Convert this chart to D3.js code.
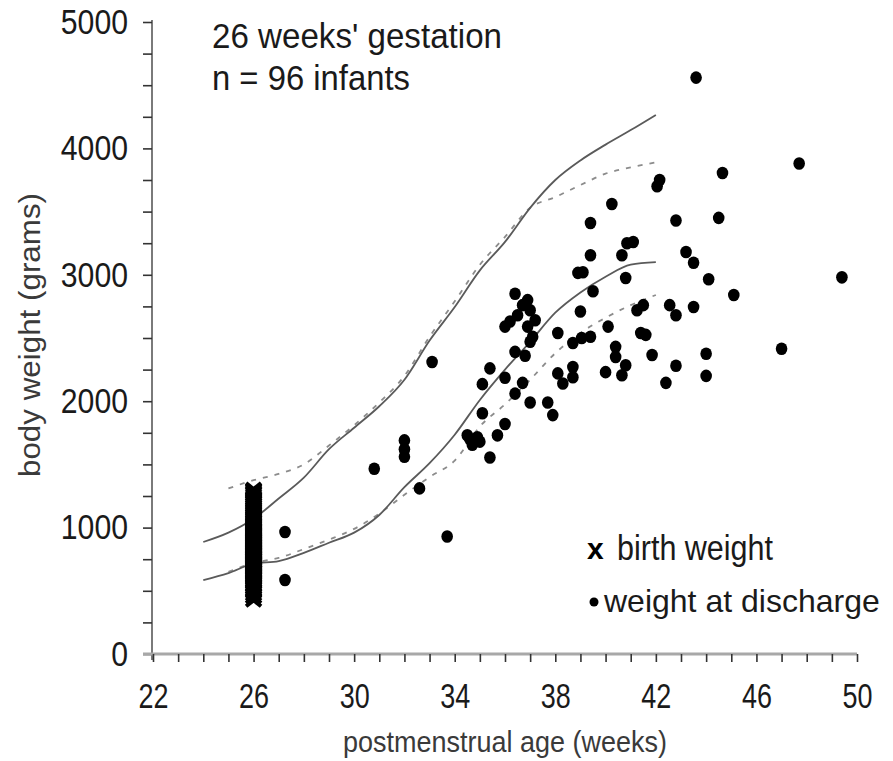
<!DOCTYPE html>
<html>
<head>
<meta charset="utf-8">
<script src="https://cdn.jsdelivr.net/npm/d3@7"></script>
<style>
  html, body { margin: 0; padding: 0; background: #fff; }
  svg { display: block; font-family: "Liberation Sans", Arial, sans-serif; }
</style>
</head>
<body>
<svg id="chart" width="893" height="761"></svg>
<script>
// Reference growth curves (postmenstrual week -> grams)
const upperSolidWeeks = [24, 25, 26, 27, 28, 29, 30, 31, 32, 33, 34, 35, 36, 37, 38, 39, 40, 41, 42];
const upperSolidGrams = [886, 960, 1070, 1230, 1395, 1620, 1790, 1960, 2170, 2480, 2745, 3035, 3260, 3530, 3750, 3905, 4030, 4145, 4265];

const upperDashedWeeks = [25, 26, 27, 28, 29, 30, 31, 32, 33, 34, 35, 36, 37, 38, 39, 40, 41, 42];
const upperDashedGrams = [1310, 1375, 1425, 1500, 1650, 1810, 1990, 2200, 2510, 2790, 3080, 3300, 3530, 3615, 3710, 3800, 3850, 3890];

const lowerSolidWeeks = [24, 25, 26, 27, 28, 29, 30, 31, 32, 33, 34, 35, 36, 37, 38, 39, 40, 41, 42];
const lowerSolidGrams = [585, 640, 715, 735, 800, 880, 960, 1100, 1320, 1510, 1735, 2010, 2250, 2470, 2700, 2860, 2985, 3080, 3100];

const lowerDashedWeeks = [25, 26, 27, 28, 29, 30, 31, 32, 33, 34, 35, 36, 37, 38, 39, 40, 41, 42];
const lowerDashedGrams = [650, 720, 760, 830, 905, 990, 1110, 1260, 1400, 1530, 1800, 1975, 2170, 2380, 2540, 2660, 2760, 2840];

// Birth weights of the 96 infants (all at 26 weeks)
const birthWeek = 26;
const birthWeights = [425, 450, 470, 490, 505, 520, 535, 545, 560, 570,
  580, 590, 600, 610, 618, 625, 635, 640, 650, 655,
  660, 670, 675, 680, 690, 695, 700, 705, 710, 718,
  725, 730, 735, 740, 748, 755, 760, 765, 770, 778,
  785, 790, 795, 800, 805, 812, 820, 825, 830, 838,
  845, 850, 858, 865, 870, 878, 885, 890, 898, 905,
  912, 920, 928, 935, 942, 950, 958, 965, 972, 980,
  990, 1000, 1010, 1020, 1030, 1040, 1050, 1062, 1075, 1088,
  1100, 1112, 1125, 1140, 1155, 1170, 1185, 1200, 1215, 1230,
  1245, 1260, 1275, 1285, 1295, 1305];

// Weight at discharge: postmenstrual week and grams
const dischargeWeeks = [27.25, 27.25, 30.8, 32.0, 32.0, 32.0, 32.6, 33.7, 33.1,
  34.5, 34.9, 34.7, 34.6, 35.4, 35.7, 36.0, 35.1, 35.1, 35.4, 36.0, 36.4, 36.7, 37.0, 37.7, 37.9,
  36.4, 36.8, 36.0, 36.5, 36.9, 37.1, 37.0, 37.0, 36.9, 36.4, 34.8, 35.0, 36.7, 37.2, 36.2,
  38.1, 38.7, 39.05, 39.4, 38.1, 38.3, 38.7, 38.7, 40.0, 40.8, 40.65, 42.8, 42.4, 44.0, 44.0,
  47.0, 41.85, 40.4, 40.4, 41.4, 41.6, 40.1, 39.0, 39.5, 41.5, 41.25, 42.55, 42.8, 43.5, 40.8,
  44.1, 45.1, 49.4, 43.2, 43.5, 39.1, 38.9, 39.4, 40.65, 40.85, 41.1, 39.4, 40.25, 42.15, 42.05,
  42.8, 44.5, 44.65, 47.7, 43.6];
const dischargeGrams = [965, 585, 1465, 1690, 1620, 1560, 1310, 930, 2310,
  1730, 1715, 1655, 1700, 1555, 1730, 1820, 1905, 2135, 2260, 2185, 2060, 2145, 1990, 1990, 1890,
  2390, 2360, 2590, 2680, 2590, 2510, 2470, 2720, 2800, 2850, 1690, 1680, 2760, 2640, 2630,
  2540, 2460, 2500, 2510, 2220, 2140, 2270, 2190, 2230, 2285, 2205, 2280, 2145, 2200, 2375,
  2415, 2365, 2430, 2350, 2540, 2525, 2590, 2710, 2870, 2760, 2720, 2760, 2680, 2745, 2975,
  2965, 2840, 2980, 3180, 3095, 3020, 3015, 3155, 3155, 3250, 3260, 3410, 3560, 3750, 3700,
  3430, 3450, 3805, 3880, 4560];

const xMajorTicks = [22, 26, 30, 34, 38, 42, 46, 50];
const yMajorTicks = [0, 1000, 2000, 3000, 4000, 5000];

const svg = d3.select("#chart");

const x = d3.scaleLinear().domain([22, 50]).range([153, 857]);
const y = d3.scaleLinear().domain([0, 5000]).range([654, 22]);

// Axes
const yAxis = d3.axisLeft(y)
  .tickValues(d3.range(0, 5001, 250))
  .tickSize(9)
  .tickPadding(15)
  .tickFormat(d => yMajorTicks.includes(d) ? String(d) : "");
const gy = svg.append("g").attr("transform", `translate(${x(22) - 1},0)`).call(yAxis);
gy.select(".domain").attr("stroke", "#7a7a7a").attr("stroke-width", 2)
  .attr("d", `M0,${y(5000) - 2}V${y(0) + 6}`);
gy.selectAll(".tick line").attr("stroke", "#333").attr("stroke-width", 1.6);
gy.selectAll(".tick text")
  .attr("font-size", 35).attr("fill", "#1a1a1a")
  .each(function () {
    const t = d3.select(this).text();
    if (t) d3.select(this).attr("textLength", t.length * 16.8).attr("lengthAdjust", "spacingAndGlyphs");
  });

const xAxis = d3.axisBottom(x)
  .tickValues(d3.range(22, 51, 1))
  .tickSize(8)
  .tickPadding(21)
  .tickFormat(d => xMajorTicks.includes(d) ? String(d) : "");
const gx = svg.append("g").attr("transform", `translate(0,${y(0)})`).call(xAxis);
gx.select(".domain").attr("stroke", "#a8a8a8").attr("stroke-width", 3)
  .attr("d", `M${x(22) - 10},0H${x(50)}`);
gx.selectAll(".tick line").attr("stroke", "#333").attr("stroke-width", 1.6);
gx.selectAll(".tick text")
  .attr("font-size", 35).attr("fill", "#1a1a1a")
  .each(function () {
    const t = d3.select(this).text();
    if (t) d3.select(this).attr("textLength", t.length * 15).attr("lengthAdjust", "spacingAndGlyphs");
  });

// Axis titles
svg.append("text")
  .attr("x", 505).attr("y", 752)
  .attr("text-anchor", "middle")
  .attr("font-size", 30).attr("fill", "#3a3a3a")
  .attr("textLength", 324).attr("lengthAdjust", "spacingAndGlyphs")
  .text("postmenstrual age (weeks)");

svg.append("text")
  .attr("transform", "translate(40,335) rotate(-90)")
  .attr("text-anchor", "middle")
  .attr("font-size", 30).attr("fill", "#3a3a3a")
  .attr("textLength", 284).attr("lengthAdjust", "spacingAndGlyphs")
  .text("body weight (grams)");

// Growth curves
const line = d3.line().x(d => x(d[0])).y(d => y(d[1])).curve(d3.curveMonotoneX);
const zip = (a, b) => a.map((v, i) => [v, b[i]]);

const curves = [
  { pts: zip(upperDashedWeeks, upperDashedGrams), dashed: true },
  { pts: zip(lowerDashedWeeks, lowerDashedGrams), dashed: true },
  { pts: zip(upperSolidWeeks, upperSolidGrams), dashed: false },
  { pts: zip(lowerSolidWeeks, lowerSolidGrams), dashed: false }
];
svg.append("g").selectAll("path").data(curves).join("path")
  .attr("d", d => line(d.pts))
  .attr("fill", "none")
  .attr("stroke", d => d.dashed ? "#8c8c8c" : "#5a5a5a")
  .attr("stroke-width", 1.8)
  .attr("stroke-dasharray", d => d.dashed ? "5,7" : null);

// Birth weight crosses
svg.append("g").selectAll("path").data(birthWeights).join("path")
  .attr("transform", d => `translate(${x(birthWeek)},${y(d)})`)
  .attr("d", "M-7.5,-6L7.5,6M-7.5,6L7.5,-6")
  .attr("stroke", "#000").attr("stroke-width", 4).attr("fill", "none");

// Discharge weights
svg.append("g").selectAll("ellipse").data(zip(dischargeWeeks, dischargeGrams)).join("ellipse")
  .attr("cx", d => x(d[0])).attr("cy", d => y(d[1]))
  .attr("rx", 5.8).attr("ry", 6.3)
  .attr("fill", "#000");

// Title
const title = svg.append("g").attr("fill", "#1a1a1a").attr("font-size", 35);
title.append("text").attr("x", 212).attr("y", 48)
  .attr("textLength", 290).attr("lengthAdjust", "spacingAndGlyphs")
  .text("26 weeks' gestation");
title.append("text").attr("x", 212).attr("y", 90)
  .attr("textLength", 198).attr("lengthAdjust", "spacingAndGlyphs")
  .text("n = 96 infants");

// Legend
const legend = svg.append("g").attr("fill", "#1a1a1a");
legend.append("text").attr("x", 587).attr("y", 559)
  .attr("font-size", 30).attr("font-weight", "bold").attr("fill", "#000")
  .text("x");
legend.append("text").attr("x", 617).attr("y", 560)
  .attr("font-size", 35)
  .attr("textLength", 156).attr("lengthAdjust", "spacingAndGlyphs")
  .text("birth weight");
legend.append("circle").attr("cx", 594).attr("cy", 602).attr("r", 4.5).attr("fill", "#000");
legend.append("text").attr("x", 604).attr("y", 612)
  .attr("font-size", 32)
  .text("weight at discharge");
</script>
</body>
</html>
